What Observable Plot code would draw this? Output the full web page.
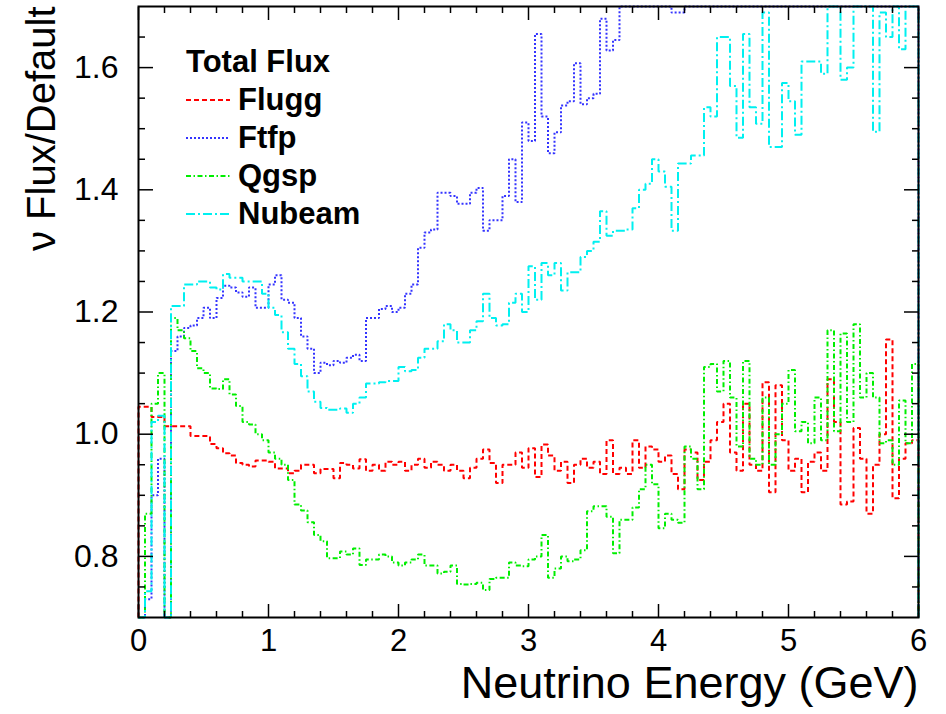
<!DOCTYPE html>
<html><head><meta charset="utf-8">
<script src="https://cdn.jsdelivr.net/npm/d3@7"></script>
<script src="https://cdn.jsdelivr.net/npm/@observablehq/plot@0.6"></script>
<style>
body{margin:0;background:#fff;}
#wrap{position:relative;width:946px;height:714px;font-family:"Liberation Sans",Arial,Helvetica,sans-serif;}
#legend{position:absolute;left:186px;top:43px;font-weight:bold;font-size:31px;color:#000;}
#legend .row{display:flex;align-items:center;height:38px;line-height:38px;white-space:nowrap;}
#legend svg{display:block;margin-right:6px;}
</style></head>
<body><div id="wrap"><div id="legend"></div></div>
<script>
// Histogram bin lower edges (GeV)
const binLow = [
0.00,0.05,0.10,0.15,0.20,0.25,0.30,0.35,0.40,0.45,0.50,0.55,0.60,0.65,0.70,0.75,0.80,0.85,0.90,0.95,
1.00,1.05,1.10,1.15,1.20,1.25,1.30,1.35,1.40,1.45,1.50,1.55,1.60,1.65,1.70,1.75,1.80,1.85,1.90,1.95,
2.00,2.05,2.10,2.15,2.20,2.25,2.30,2.35,2.40,2.45,2.50,2.55,2.60,2.65,2.70,2.75,2.80,2.85,2.90,2.95,
3.00,3.05,3.10,3.15,3.20,3.25,3.30,3.35,3.40,3.45,3.50,3.55,3.60,3.65,3.70,3.75,3.80,3.85,3.90,3.95,
4.00,4.05,4.10,4.15,4.20,4.25,4.30,4.35,4.40,4.45,4.50,4.55,4.60,4.65,4.70,4.75,4.80,4.85,4.90,4.95,
5.00,5.05,5.10,5.15,5.20,5.25,5.30,5.35,5.40,5.45,5.50,5.55,5.60,5.65,5.70,5.75,5.80,5.85,5.90,5.95];
const xMax = 6;

const flugg = [
1.045,1.045,1.028,1.028,1.013,1.013,1.013,1.013,0.997,0.997,0.997,0.984,0.977,0.969,0.965,0.953,0.950,0.947,0.957,0.957,
0.955,0.944,0.944,0.936,0.940,0.950,0.950,0.936,0.943,0.943,0.928,0.953,0.950,0.944,0.959,0.940,0.950,0.940,0.955,0.950,
0.955,0.940,0.950,0.960,0.945,0.955,0.950,0.940,0.950,0.940,0.928,0.945,0.960,0.975,0.953,0.920,0.950,0.950,0.970,0.945,
0.977,0.930,0.983,0.965,0.940,0.955,0.920,0.950,0.960,0.945,0.955,0.935,0.990,0.935,0.945,0.935,0.990,0.945,0.980,0.975,
0.955,0.965,0.935,0.910,0.975,0.970,0.925,0.955,0.990,1.020,1.050,0.970,0.940,1.050,0.950,0.940,1.085,0.905,1.080,0.990,
0.940,0.960,0.905,0.955,0.970,0.940,1.090,1.020,0.885,0.890,1.010,0.960,0.870,0.950,1.000,1.155,0.895,0.960,0.985,0.990];

const ftfp = [
0.500,0.730,0.900,0.960,0.300,1.136,1.160,1.174,1.178,1.190,1.207,1.190,1.223,1.243,1.240,1.232,1.225,1.240,1.207,1.207,
1.245,1.260,1.220,1.215,1.190,1.160,1.140,1.100,1.117,1.113,1.120,1.117,1.125,1.130,1.120,1.190,1.190,1.205,1.210,1.200,
1.207,1.230,1.245,1.305,1.330,1.335,1.395,1.395,1.390,1.377,1.377,1.395,1.403,1.333,1.350,1.350,1.390,1.450,1.380,1.510,
1.480,1.655,1.520,1.460,1.494,1.538,1.545,1.607,1.540,1.550,1.557,1.680,1.628,1.645,1.760,1.780,1.800,1.790,1.800,1.780,
1.790,1.750,1.690,1.690,1.760,1.780,1.800,1.820,1.800,1.810,1.830,1.820,1.850,1.840,1.860,1.850,1.880,1.870,1.900,1.880,
1.900,1.910,1.890,1.920,1.930,1.910,1.950,1.940,1.960,1.930,1.970,1.950,1.990,1.960,2.000,1.980,2.010,1.990,2.020,2.000];

const qgsp = [
0.600,0.870,1.050,1.100,0.300,1.190,1.170,1.157,1.136,1.108,1.100,1.075,1.074,1.090,1.065,1.046,1.020,1.016,1.000,0.990,
0.970,0.960,0.950,0.925,0.885,0.875,0.856,0.835,0.825,0.797,0.797,0.808,0.803,0.813,0.786,0.795,0.795,0.803,0.800,0.790,
0.785,0.790,0.795,0.803,0.785,0.785,0.772,0.775,0.785,0.755,0.754,0.755,0.757,0.745,0.763,0.765,0.765,0.790,0.785,0.784,
0.795,0.800,0.835,0.765,0.780,0.800,0.792,0.795,0.810,0.874,0.882,0.882,0.865,0.805,0.860,0.860,0.880,0.910,0.950,0.918,
0.846,0.870,0.860,0.855,0.980,0.960,0.910,1.110,1.115,1.070,1.120,1.060,0.980,1.120,0.960,0.950,1.060,0.950,1.000,1.050,
1.105,1.005,1.020,0.985,1.060,0.990,1.170,1.005,1.165,1.020,1.180,1.060,1.100,1.060,0.985,0.990,0.950,1.055,0.985,1.115];

const nubeam = [
0.600,0.743,1.020,1.030,0.300,1.210,1.210,1.245,1.245,1.250,1.250,1.240,1.237,1.262,1.256,1.256,1.250,1.250,1.250,1.230,
1.207,1.195,1.167,1.140,1.115,1.095,1.070,1.053,1.043,1.040,1.040,1.042,1.035,1.050,1.060,1.083,1.083,1.085,1.087,1.087,
1.110,1.103,1.105,1.125,1.140,1.140,1.152,1.180,1.170,1.150,1.150,1.170,1.185,1.230,1.190,1.178,1.180,1.215,1.230,1.200,
1.275,1.220,1.280,1.260,1.280,1.235,1.265,1.265,1.290,1.300,1.315,1.365,1.325,1.333,1.333,1.335,1.370,1.400,1.410,1.450,
1.430,1.405,1.333,1.443,1.443,1.456,1.456,1.535,1.520,1.650,1.650,1.570,1.485,1.655,1.535,1.508,1.690,1.470,1.470,1.575,
1.545,1.490,1.610,1.610,1.610,1.590,1.750,1.750,1.580,1.600,1.750,1.750,1.750,1.495,1.690,1.650,1.750,1.630,1.750,1.750];

const seriesNames = ["Flugg", "Ftfp", "Qgsp", "Nubeam"];
const seriesValues = [flugg, ftfp, qgsp, nubeam];
const seriesColors = ["#ff0000", "#3434ff", "#00ee00", "#00f0f0"];
const seriesDash = ["5,3", "2,2", "5,2.5,1.5,2.5", "9,3,2,3"];
const legendTitle = "Total Flux";

const xMajorTicks = [0, 1, 2, 3, 4, 5, 6];
const xMinorTicks = [0.2,0.4,0.6,0.8,1.2,1.4,1.6,1.8,2.2,2.4,2.6,2.8,3.2,3.4,3.6,3.8,4.2,4.4,4.6,4.8,5.2,5.4,5.6,5.8];
const yMajorTicks = [0.8, 1.0, 1.2, 1.4, 1.6];
const yMinorTicks = [0.75,0.85,0.9,0.95,1.05,1.1,1.15,1.25,1.3,1.35,1.45,1.5,1.55,1.65];
const xTitle = "Neutrino Energy (GeV)";
const yTitle = "ν Flux/Default";

function histPoints(values, name) {
  const pts = [{x: binLow[0], y: 0, s: name}];
  values.forEach((v, i) => pts.push({x: binLow[i], y: v, s: name}));
  pts.push({x: xMax, y: values[values.length - 1], s: name});
  pts.push({x: xMax, y: 0, s: name});
  return pts;
}

const lineMarks = seriesNames.map((name, i) =>
  Plot.line(histPoints(seriesValues[i], name), {
    x: "x", y: "y", curve: "step-after",
    stroke: seriesColors[i], strokeWidth: 2, strokeDasharray: seriesDash[i],
    strokeLinecap: "butt", strokeLinejoin: "miter"
  })
);

const noText = () => "";
const plot = Plot.plot({
  width: 946, height: 714,
  marginLeft: 138, marginRight: 28, marginTop: 6, marginBottom: 97,
  style: {fontFamily: '"Liberation Sans", Arial, Helvetica, sans-serif', background: "#fff", color: "#000", overflow: "visible"},
  x: {domain: [0, 6]},
  y: {domain: [0.7, 1.7], clamp: true},
  marks: [
    ...lineMarks,
    Plot.frame({stroke: "#000", strokeWidth: 2}),
    Plot.axisX(xMajorTicks, {anchor: "bottom", tickSize: 13, dy: -13, tickFormat: noText, label: null, strokeWidth: 1.5}),
    Plot.axisX(xMinorTicks, {anchor: "bottom", tickSize: 6, dy: -6, tickFormat: noText, label: null, strokeWidth: 1.5}),
    Plot.axisX(xMajorTicks, {anchor: "top", tickSize: 13, dy: 13, tickFormat: noText, label: null, strokeWidth: 1.5}),
    Plot.axisX(xMinorTicks, {anchor: "top", tickSize: 6, dy: 6, tickFormat: noText, label: null, strokeWidth: 1.5}),
    Plot.axisY(yMajorTicks, {anchor: "left", tickSize: 15, dx: 15, tickFormat: noText, label: null, strokeWidth: 1.5}),
    Plot.axisY(yMinorTicks, {anchor: "left", tickSize: 7, dx: 7, tickFormat: noText, label: null, strokeWidth: 1.5}),
    Plot.axisY(yMajorTicks, {anchor: "right", tickSize: 15, dx: -15, tickFormat: noText, label: null, strokeWidth: 1.5}),
    Plot.axisY(yMinorTicks, {anchor: "right", tickSize: 7, dx: -7, tickFormat: noText, label: null, strokeWidth: 1.5}),
    Plot.axisX(xMajorTicks, {anchor: "bottom", tickSize: 0, tickPadding: 11, fontSize: 31, tickFormat: d => String(d), label: null}),
    Plot.axisY(yMajorTicks, {anchor: "left", tickSize: 0, tickPadding: 20, fontSize: 32, tickFormat: d3.format(".1f"), label: null}),
    Plot.text([xTitle], {frameAnchor: "bottom-right", text: d => d, textAnchor: "end", lineAnchor: "middle", dy: 66, fontSize: 45, fill: "#000"}),
    Plot.text([yTitle], {frameAnchor: "top-left", text: d => d, rotate: -90, textAnchor: "end", lineAnchor: "middle", dx: -96, dy: 0, fontSize: 40, fill: "#000"})
  ]
});

const wrap = document.getElementById("wrap");
const legend = document.getElementById("legend");
wrap.insertBefore(plot, legend);

const titleRow = document.createElement("div");
titleRow.className = "row";
titleRow.textContent = legendTitle;
legend.appendChild(titleRow);
seriesNames.forEach((name, i) => {
  const row = document.createElement("div");
  row.className = "row";
  const ns = "http://www.w3.org/2000/svg";
  const svg = document.createElementNS(ns, "svg");
  svg.setAttribute("width", "46"); svg.setAttribute("height", "38");
  const ln = document.createElementNS(ns, "line");
  ln.setAttribute("x1", "0"); ln.setAttribute("x2", "44");
  ln.setAttribute("y1", "19"); ln.setAttribute("y2", "19");
  ln.setAttribute("stroke", seriesColors[i]);
  ln.setAttribute("stroke-width", "2");
  ln.setAttribute("stroke-dasharray", seriesDash[i]);
  svg.appendChild(ln);
  row.appendChild(svg);
  const sp = document.createElement("span");
  sp.textContent = name;
  row.appendChild(sp);
  legend.appendChild(row);
});
</script>
</body></html>
